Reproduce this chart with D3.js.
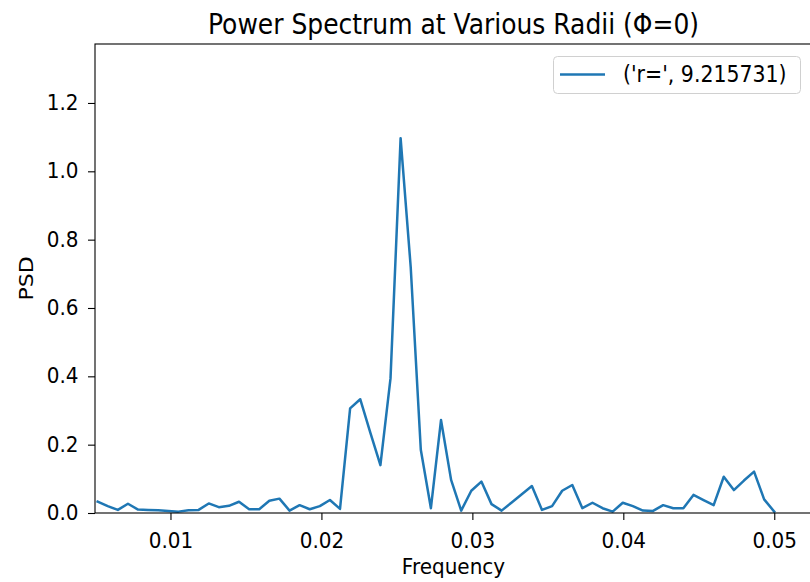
<!DOCTYPE html>
<html>
<head>
<meta charset="utf-8">
<script src="https://cdn.jsdelivr.net/npm/d3@7"></script>
<style>
  body { margin: 0; background: #fff; }
  svg { display: block; }
  text { font-family: "DejaVu Sans", sans-serif; fill: #000; }
</style>
</head>
<body>
<div id="chart"></div>
<script>
// frequency of each spectrum sample
var freqs = [
  0.005176, 0.005845, 0.006514, 0.007183, 0.007852, 0.008521, 0.009190, 0.009859,
  0.010528, 0.011197, 0.011866, 0.012535, 0.013204, 0.013873, 0.014542, 0.015211,
  0.015880, 0.016549, 0.017218, 0.017887, 0.018556, 0.019225, 0.019894, 0.020563,
  0.021232, 0.021901, 0.022570, 0.023239, 0.023908, 0.024577, 0.025246, 0.025915,
  0.026584, 0.027253, 0.027922, 0.028591, 0.029260, 0.029929, 0.030598, 0.031267,
  0.031936, 0.032605, 0.033274, 0.033943, 0.034612, 0.035281, 0.035950, 0.036619,
  0.037288, 0.037957, 0.038626, 0.039295, 0.039964, 0.040633, 0.041302, 0.041971,
  0.042640, 0.043309, 0.043978, 0.044647, 0.045316, 0.045985, 0.046654, 0.047323,
  0.047992, 0.048661, 0.049330, 0.049999
];
// PSD at r = 9.215731
var psd = [
  0.033, 0.020, 0.009, 0.027, 0.010, 0.009, 0.008, 0.006,
  0.004, 0.008, 0.009, 0.028, 0.017, 0.021, 0.033, 0.011,
  0.011, 0.036, 0.042, 0.007, 0.023, 0.011, 0.020, 0.038,
  0.012, 0.306, 0.333, 0.235, 0.140, 0.394, 1.097, 0.720,
  0.185, 0.014, 0.272, 0.097, 0.007, 0.065, 0.092, 0.026,
  0.007, 0.031, 0.055, 0.079, 0.009, 0.020, 0.065, 0.082,
  0.014, 0.030, 0.014, 0.004, 0.030, 0.020, 0.007, 0.006,
  0.023, 0.014, 0.014, 0.053, 0.038, 0.023, 0.106, 0.067,
  0.095, 0.121, 0.040, 0.004
];
var xTicks = [0.01, 0.02, 0.03, 0.04, 0.05];
var yTicks = [0.0, 0.2, 0.4, 0.6, 0.8, 1.0, 1.2];
var seriesLabel = "('r=', 9.215731)";
var title = "Power Spectrum at Various Radii (\u03A6=0)";

var W = 810, H = 582;
var m = { left: 95, right: 812, top: 44, bottom: 513 };
var stretch = 1.1; // glyphs in the reference are a little taller than wide

var svg = d3.select("#chart").append("svg")
  .attr("width", W)
  .attr("height", H);

var x = d3.scaleLinear().domain([0.005, 0.0525]).range([m.left, m.right]);
var y = d3.scaleLinear().domain([0, 1.3726]).range([m.bottom, m.top]);

// axes
var xAxis = svg.append("g")
  .attr("transform", "translate(0," + m.bottom + ")")
  .call(d3.axisBottom(x).tickValues(xTicks).tickFormat(d3.format(".2f")).tickSize(7).tickPadding(6));
var yAxis = svg.append("g")
  .attr("transform", "translate(" + m.left + ",0)")
  .call(d3.axisLeft(y).tickValues(yTicks).tickFormat(d3.format(".1f")).tickSize(7).tickPadding(9.5));

[xAxis, yAxis].forEach(function(g) {
  g.select(".domain").remove();
  g.selectAll(".tick line").attr("stroke", "#000").attr("stroke-width", 1.1);
  g.selectAll(".tick text")
    .style("font-family", "DejaVu Sans")
    .style("font-size", "20px")
    .attr("fill", "#000")
    .attr("transform", "scale(1," + stretch + ")");
});
xAxis.selectAll(".tick text").attr("y", 12.5).attr("dy", "0.95em");
yAxis.selectAll(".tick text").attr("dy", "0.29em");

// line
var line = d3.line()
  .x(function(d, i) { return x(freqs[i]); })
  .y(function(d) { return y(d); });

svg.append("path")
  .datum(psd)
  .attr("d", line)
  .attr("fill", "none")
  .attr("stroke", "#1f77b4")
  .attr("stroke-width", 2.5)
  .attr("stroke-linejoin", "round")
  .attr("stroke-linecap", "square");

// spines
svg.append("rect")
  .attr("x", m.left)
  .attr("y", m.top)
  .attr("width", m.right - m.left)
  .attr("height", m.bottom - m.top)
  .attr("fill", "none")
  .attr("stroke", "#000")
  .attr("stroke-width", 1.1);

// labels
function label(tx, ty, rot, size, anchor, str) {
  return svg.append("text")
    .attr("transform", "translate(" + tx + "," + ty + ")" + (rot ? " rotate(" + rot + ")" : "") +
      (rot ? " scale(" + stretch + ",1)" : " scale(1," + stretch + ")"))
    .attr("text-anchor", anchor)
    .style("font-size", size + "px")
    .text(str);
}

label((m.left + m.right) / 2, 34, 0, 25, "middle", title);
label((m.left + m.right) / 2, 574, 0, 20, "middle", "Frequency");
label(33, (m.top + m.bottom) / 2, -90, 20, "middle", "PSD");

// legend
var lg = svg.append("g");
lg.append("rect")
  .attr("x", 553.5)
  .attr("y", 56.5)
  .attr("width", 247)
  .attr("height", 37)
  .attr("rx", 4)
  .attr("fill", "#fff")
  .attr("fill-opacity", 0.8)
  .attr("stroke", "#d0d0d0")
  .attr("stroke-width", 1);
lg.append("line")
  .attr("x1", 560)
  .attr("x2", 605)
  .attr("y1", 74.5)
  .attr("y2", 74.5)
  .attr("stroke", "#1f77b4")
  .attr("stroke-width", 2.5);
lg.append("text")
  .attr("transform", "translate(623,82) scale(1," + stretch + ")")
  .style("font-size", "20.5px")
  .text(seriesLabel);
</script>
</body>
</html>
